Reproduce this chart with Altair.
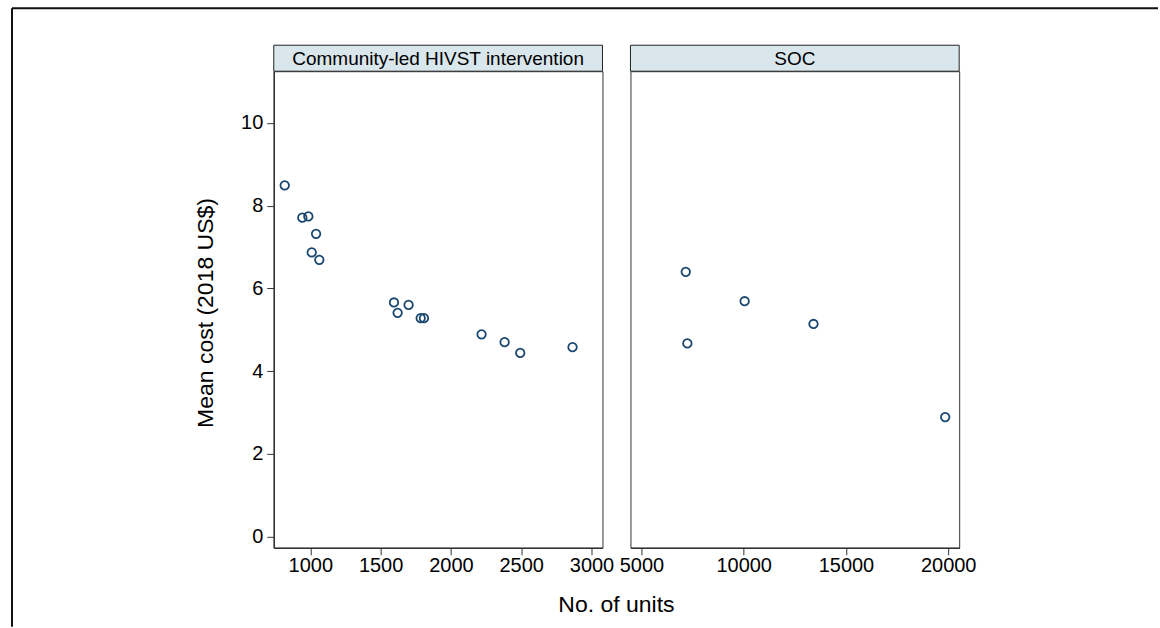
import altair as alt
import pandas as pd

# ---- data ----
panel_titles = ["Community-led HIVST intervention", "SOC"]
hivst_units = [818, 943, 986, 1041, 1010, 1064, 1595, 1621, 1699, 1785, 1808, 2218, 2382, 2493, 2865]
hivst_cost = [8.49, 7.71, 7.74, 7.32, 6.87, 6.69, 5.66, 5.41, 5.60, 5.28, 5.28, 4.89, 4.70, 4.44, 4.58]
soc_units = [7167, 7245, 10046, 13413, 19854]
soc_cost = [6.40, 4.67, 5.69, 5.14, 2.89]
y_ticks = [0, 2, 4, 6, 8, 10]
hivst_x_ticks = [1000, 1500, 2000, 2500, 3000]
soc_x_ticks = [5000, 10000, 15000, 20000]
y_title = "Mean cost (2018 US$)"
x_title = "No. of units"

FONT = "Liberation Sans"
NAVY = "#1a476f"
STRIP = "#d9e6ec"
W, H = 329, 477
Y_DOMAIN = [-0.27, 11.25]

one = pd.DataFrame({"k": [0]})


def panel(units, cost, xdom, xticks, title, show_y):
    df = pd.DataFrame({"units": units, "cost": cost})
    yaxis = (
        alt.Axis(values=y_ticks, title=None, grid=False, labelPadding=4)
        if show_y
        else None
    )
    pts = alt.Chart(df).mark_point(
        shape="circle", filled=False, size=72, strokeWidth=1.8, color=NAVY, opacity=1
    ).encode(
        x=alt.X(
            "units:Q",
            scale=alt.Scale(domain=xdom, nice=False, zero=False),
            axis=alt.Axis(values=xticks, title=None, grid=False, format="d",
                          labelPadding=1, labelFlush=False, labelOverlap=False),
        ),
        y=alt.Y("cost:Q", scale=alt.Scale(domain=Y_DOMAIN, nice=False, zero=False), axis=yaxis),
    )
    header = alt.Chart(one).mark_rect(fill=STRIP, stroke="#222", strokeWidth=1).encode(
        x=alt.value(0), x2=alt.value(W), y=alt.value(-26), y2=alt.value(0)
    )
    htext = alt.Chart(one).mark_text(
        font=FONT, fontSize=19, color="#000", baseline="middle", align="center"
    ).encode(x=alt.value(W / 2), y=alt.value(-12), text=alt.value(title))
    layers = [header, htext, pts]
    if show_y:
        top_rule = alt.Chart(one).mark_rule(color="#111", strokeWidth=2).encode(
            x=alt.value(-262), x2=alt.value(885), y=alt.value(-63)
        )
        left_rule = alt.Chart(one).mark_rule(color="#111", strokeWidth=2).encode(
            x=alt.value(-262), y=alt.value(-63), y2=alt.value(556)
        )
        ytitle = alt.Chart(one).mark_text(
            font=FONT, fontSize=23, color="#000", angle=270, baseline="middle", align="center"
        ).encode(x=alt.value(-68), y=alt.value(242), text=alt.value(y_title))
        xtitle = alt.Chart(one).mark_text(
            font=FONT, fontSize=23, color="#000", baseline="alphabetic", align="center"
        ).encode(x=alt.value(343), y=alt.value(541), text=alt.value(x_title))
        layers += [top_rule, left_rule, ytitle, xtitle]
    return alt.layer(*layers).properties(width=W, height=H)


left = panel(hivst_units, hivst_cost, [740, 3078], hivst_x_ticks, panel_titles[0], True)
right = panel(soc_units, soc_cost, [4463, 20537], soc_x_ticks, panel_titles[1], False)

chart = (
    alt.hconcat(left, right, spacing=28, bounds="flush")
    .properties(padding={"left": 10, "top": 6, "right": 0, "bottom": 0}, background="white")
    .configure_view(stroke="#333", strokeWidth=1)
    .configure_axis(
        domainColor="#333", domainWidth=1.5, tickColor="#333", tickSize=7, tickWidth=1,
        labelFont=FONT, labelFontSize=20, labelColor="#000",
    )
)

chart.save("out.html", embed_options={"renderer": "svg", "actions": False})
